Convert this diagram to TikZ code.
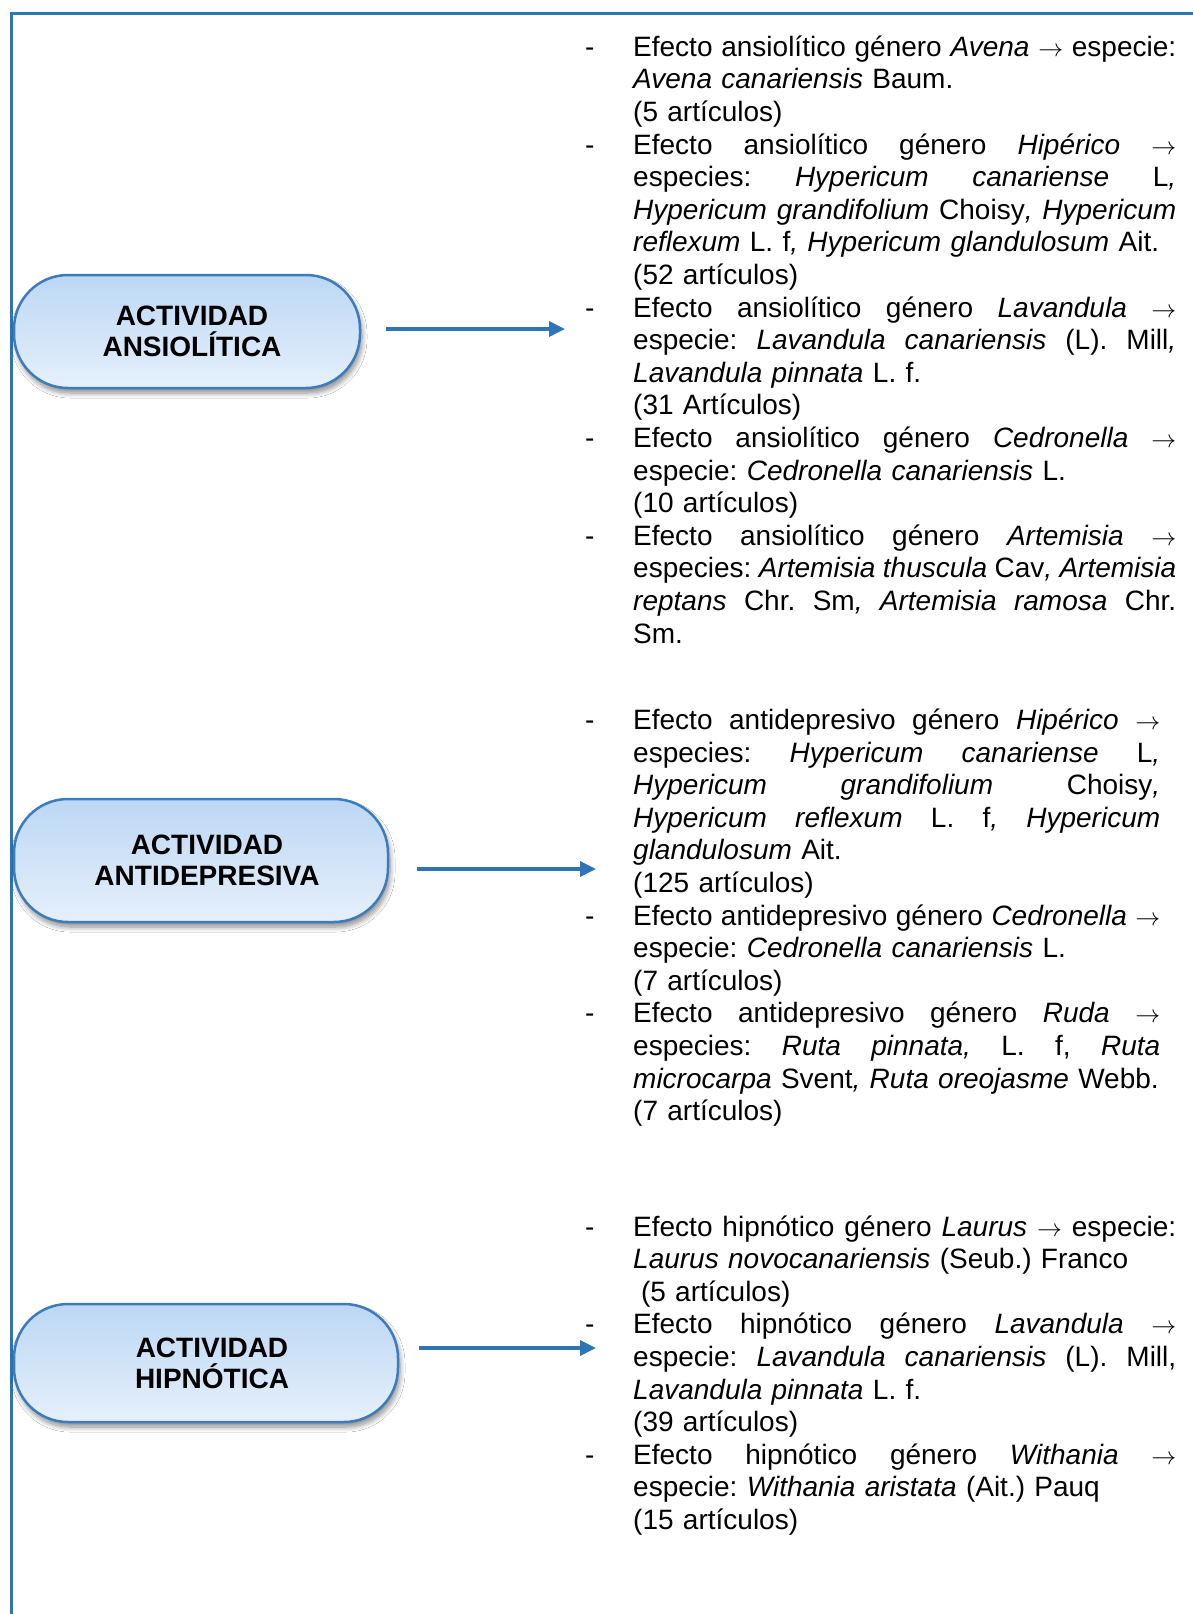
\documentclass[tikz,border=0pt]{standalone}
\usepackage{fontspec}
\setmainfont{Liberation Sans}
\usetikzlibrary{shadows.blur, arrows.meta}
\definecolor{frameblue}{HTML}{2E75B6}
\definecolor{boxblue}{HTML}{3B7BBE}
\definecolor{boxtop}{HTML}{BCD7F4}
\definecolor{boxbot}{HTML}{E6F0FB}
\setlength\parindent{0pt}
\newcommand\JL[1]{\noindent\makebox[\linewidth][s]{\spaceskip=7.8pt plus 1fil minus 2pt\xspaceskip=\spaceskip\strut#1}\par}
\newcommand\LL[1]{\noindent\mbox{\strut#1}\par}
\newcommand\DS{\llap{\makebox[48pt][l]{-}}}
\tikzset{
  frameline/.style={draw=frameblue, line width=3pt},
  actbox/.style={rectangle, rounded corners=54pt, draw=boxblue, line width=2.5pt,
    top color=boxtop, bottom color=boxbot,
    blur shadow={shadow xshift=2pt, shadow yshift=-5pt, shadow blur steps=8, shadow blur radius=5pt, shadow opacity=45},
    font=\fontsize{28}{31}\selectfont\bfseries, align=center, inner sep=0pt},
  arr/.style={draw=frameblue, line width=3.5pt, -{Triangle[length=16pt,width=15pt]}},
  txt/.style={anchor=base west, inner sep=0pt, align=left,
    font=\fontsize{28}{32.6}\selectfont\frenchspacing}
}
\begin{document}
\begin{tikzpicture}[x=1pt,y=-1pt]
\path[use as bounding box, fill=white] (0,0) rectangle (1193,1614);
\draw[frameline] (11,1614) -- (11,13) -- (1193,13);

\node[actbox, minimum width=346pt, minimum height=113pt] (b1) at (187,331.5)
  {\hspace*{10pt}ACTIVIDAD\\\hspace*{10pt}ANSIOLÍTICA};
\node[actbox, minimum width=374pt, minimum height=123pt] (b2) at (201,860.5)
  {\hspace*{12pt}ACTIVIDAD\\\hspace*{12pt}ANTIDEPRESIVA};
\node[actbox, minimum width=384pt, minimum height=118pt] (b3) at (206,1363)
  {\hspace*{12pt}ACTIVIDAD\\\hspace*{12pt}HIPNÓTICA};

\coordinate (e1) at (565,329);
\coordinate (e2) at (596,869);
\coordinate (e3) at (596,1348);
\draw[arr] ([xshift=25pt,yshift=2.5pt]b1.east) -- (e1);
\draw[arr] ([xshift=28pt,yshift=-8.5pt]b2.east) -- (e2);
\draw[arr] ([xshift=20pt,yshift=15pt]b3.east) -- (e3);

\node[txt, text width=543pt] (t1) at (633,56.3) {%
\JL{\DS Efecto ansiolítico género \textit{Avena} $\rightarrow$ especie:}
\LL{\textit{Avena canariensis} Baum.}
\LL{(5 artículos)}
\JL{\DS Efecto ansiolítico género \textit{Hipérico} $\rightarrow$}
\JL{especies: \textit{Hypericum canariense} L\textit{,}}
\JL{\textit{Hypericum grandifolium} Choisy\textit{,} \textit{Hypericum}}
\LL{\textit{reflexum} L. f\textit{,} \textit{Hypericum glandulosum} Ait.}
\LL{(52 artículos)}
\JL{\DS Efecto ansiolítico género \textit{Lavandula} $\rightarrow$}
\JL{especie: \textit{Lavandula canariensis} (L). Mill\textit{,}}
\LL{\textit{Lavandula pinnata} L. f.}
\LL{(31 Artículos)}
\JL{\DS Efecto ansiolítico género \textit{Cedronella} $\rightarrow$}
\LL{especie: \textit{Cedronella canariensis} L.}
\LL{(10 artículos)}
\JL{\DS Efecto ansiolítico género \textit{Artemisia} $\rightarrow$}
\JL{especies: \textit{Artemisia thuscula} Cav\textit{,} \textit{Artemisia}}
\JL{\textit{reptans} Chr. Sm\textit{,} \textit{Artemisia ramosa} Chr.}
\LL{Sm.}};

\node[txt, text width=527pt] (t2) at (633,729.5) {%
\JL{\DS Efecto antidepresivo género \textit{Hipérico} $\rightarrow$}
\JL{especies: \textit{Hypericum canariense} L\textit{,}}
\JL{\textit{Hypericum grandifolium} Choisy\textit{,}}
\JL{\textit{Hypericum reflexum} L. f\textit{,} \textit{Hypericum}}
\LL{\textit{glandulosum} Ait.}
\LL{(125 artículos)}
\JL{\DS Efecto antidepresivo género \textit{Cedronella} $\rightarrow$}
\LL{especie: \textit{Cedronella canariensis} L.}
\LL{(7 artículos)}
\JL{\DS Efecto antidepresivo género \textit{Ruda} $\rightarrow$}
\JL{especies: \textit{Ruta pinnata,} L. f, \textit{Ruta}}
\LL{\textit{microcarpa} Svent\textit{,} \textit{Ruta oreojasme} Webb.}
\LL{(7 artículos)}};

\node[txt, text width=543pt] (t3) at (633,1236) {%
\JL{\DS Efecto hipnótico género \textit{Laurus} $\rightarrow$ especie:}
\LL{\textit{Laurus novocanariensis} (Seub.) Franco}
\LL{\hspace*{7.8pt}(5 artículos)}
\JL{\DS Efecto hipnótico género \textit{Lavandula} $\rightarrow$}
\JL{especie: \textit{Lavandula canariensis} (L). Mill,}
\LL{\textit{Lavandula pinnata} L. f.}
\LL{(39 artículos)}
\JL{\DS Efecto hipnótico género \textit{Withania} $\rightarrow$}
\LL{especie: \textit{Withania aristata} (Ait.) Pauq}
\LL{(15 artículos)}};
\end{tikzpicture}
\end{document}
